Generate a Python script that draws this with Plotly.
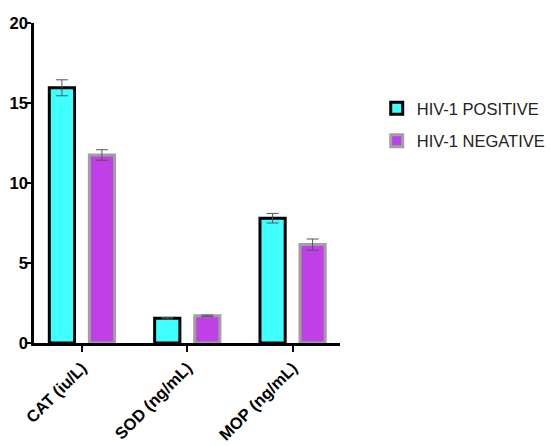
import plotly.graph_objects as go

categories = ["CAT (iu/L)", "SOD (ng/mL)", "MOP (ng/mL)"]
pos_values = [15.95, 1.55, 7.8]
pos_err = [0.5, 0.05, 0.3]
neg_values = [11.75, 1.7, 6.15]
neg_err = [0.33, 0.05, 0.35]

font_family = "Liberation Sans, Arial, sans-serif"

fig = go.Figure()
fig.add_trace(go.Bar(
    x=categories, y=pos_values, name="HIV-1 POSITIVE",
    marker=dict(color="#40FFFF", line=dict(color="black", width=3)),
    error_y=dict(type="data", array=pos_err, color="#555555", thickness=1, width=6),
    legendgroup="a",
))
fig.add_trace(go.Bar(
    x=categories, y=neg_values, name="HIV-1 NEGATIVE",
    marker=dict(color="#C040E8", line=dict(color="#A0A0A0", width=3)),
    error_y=dict(type="data", array=neg_err, color="#555555", thickness=1, width=6),
    legendgroup="b",
))

fig.update_layout(
    width=550, height=446,
    margin=dict(l=34, r=210, t=23, b=103, autoexpand=False),
    paper_bgcolor="white", plot_bgcolor="white",
    barmode="group", bargap=0.24, bargroupgap=0.37,
    font=dict(family=font_family, color="black"),
    showlegend=True,
    legend=dict(x=1.12, y=0.7875, xanchor="left", yanchor="top",
                font=dict(size=16.5, color="#222222", family=font_family),
                tracegroupgap=8, traceorder="grouped", bgcolor="rgba(0,0,0,0)"),
)
fig.update_xaxes(
    range=[-0.455, 2.45], automargin=False,
    showline=True, linecolor="black", linewidth=2.5,
    ticks="outside", ticklen=6, tickwidth=2, tickcolor="black",
    tickangle=-45, tickfont=dict(size=16.5, weight="bold", family=font_family),
    showgrid=False, zeroline=False,
)
fig.update_yaxes(
    range=[0, 20], tickvals=[0, 5, 10, 15, 20], automargin=False,
    showline=True, linecolor="black", linewidth=2.5,
    ticks="outside", ticklen=5, tickwidth=2, tickcolor="black",
    ticklabelstandoff=-5,
    tickfont=dict(size=16.5, weight="bold", family=font_family),
    showgrid=False, zeroline=False,
)

fig.write_html(
    "out.html",
    config={"displayModeBar": False},
    post_script="document.body.style.margin='0';document.body.style.overflow='hidden';",
)
